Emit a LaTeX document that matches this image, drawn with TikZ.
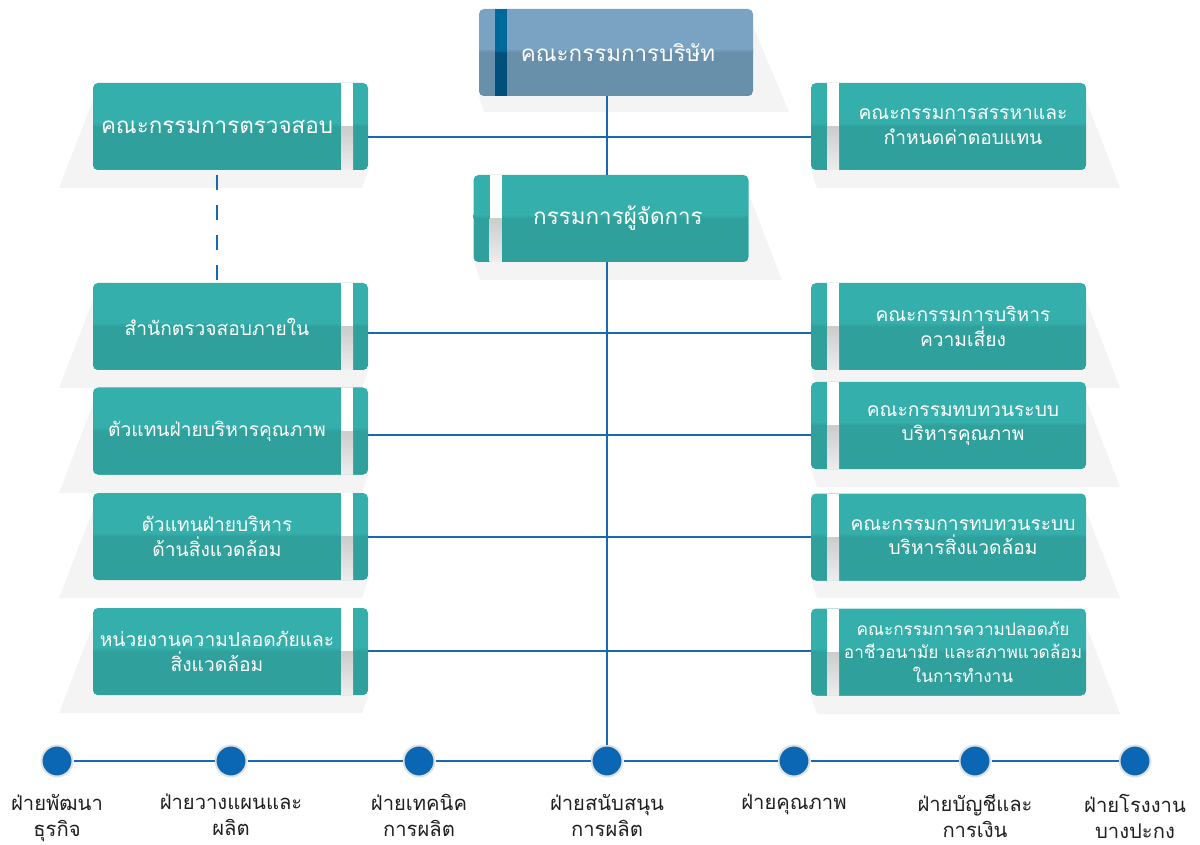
\documentclass[tikz,border=0pt]{standalone}
\usepackage{fontspec}
\newfontfamily\thai[Script=Thai]{Loma}
\usepackage{tikz}

\definecolor{tealtop}{HTML}{35AFAB}
\definecolor{tealbot}{HTML}{2FA09C}
\definecolor{boardtop}{HTML}{7AA2C2}
\definecolor{boardbot}{HTML}{6890AB}
\definecolor{stripetop}{HTML}{00699B}
\definecolor{stripebot}{HTML}{00507A}
\definecolor{linkblue}{HTML}{1868B2}
\definecolor{dotblue}{HTML}{0B67B3}
\definecolor{shadowgray}{HTML}{F4F4F4}

\begin{document}
\begin{tikzpicture}[x=0.5pt, y=-0.5pt, font=\thai,
    link/.style={draw=linkblue, line width=1.2pt},
    card/.style={rounded corners=2.5pt, inner sep=0pt, minimum width=137.5pt, minimum height=43.5pt, fill=tealtop,
      path picture={
        \fill[tealbot, sharp corners] (path picture bounding box.west) rectangle (path picture bounding box.south east);
        \shade[top color=tealtop, bottom color=tealbot, sharp corners] ([yshift=2pt]path picture bounding box.west) rectangle (path picture bounding box.east);
        \fill[white, sharp corners] ([xshift=#1]path picture bounding box.north west) rectangle ([xshift=#1+6pt]path picture bounding box.south west);
        \shade[top color=black!20, bottom color=black!7, sharp corners] ([xshift=#1]path picture bounding box.west) rectangle ([xshift=#1+6pt]path picture bounding box.south west);
      }},
    board/.style={rounded corners=2.5pt, inner sep=0pt, minimum width=137pt, minimum height=43.5pt, fill=boardtop,
      path picture={
        \fill[boardbot, sharp corners] (path picture bounding box.west) rectangle (path picture bounding box.south east);
        \shade[top color=boardtop, bottom color=boardbot, sharp corners] ([yshift=2pt]path picture bounding box.west) rectangle (path picture bounding box.east);
        \fill[stripetop, sharp corners] ([xshift=8pt]path picture bounding box.north west) rectangle ([xshift=14pt]path picture bounding box.west);
        \fill[stripebot, sharp corners] ([xshift=8pt]path picture bounding box.west) rectangle ([xshift=14pt]path picture bounding box.south west);
      }},
    boxtext/.style={text=white, align=center, inner sep=0pt, font=\thai\fontsize{9.6}{12.2}\selectfont},
    bigtext/.style={boxtext, font=\thai\fontsize{11.2}{13.5}\selectfont},
    smalltext/.style={boxtext, font=\thai\fontsize{8.6}{11.8}\selectfont},
    dot/.style={circle, fill=dotblue, draw=black!12, line width=1pt, minimum size=15.5pt, inner sep=0pt},
    dept/.style={anchor=north, align=center, text=black!88, font=\thai\fontsize{10.1}{13}\selectfont}]

    \useasboundingbox (0,0) rectangle (1200,845);

    % top two boxes
    \fill[shadowgray] (753,26) -- (789,112) -- (484,112) -- (479,96) -- cycle;
    \node[board] (bod) at (616,52.5) {};
    \node[bigtext] (bod-t) at (618,52.5) {คณะกรรมการบริษัท};
    \fill[shadowgray] (748,192) -- (782,280) -- (480,280) -- (474,262) -- cycle;
    \node[card=8pt] (md) at (611,218.5) {};
    \node[bigtext] (md-t) at (618,218.5) {กรรมการผู้จัดการ};

    % left column
    \foreach \n/\t/\b/\s/\txt in {l1/83/170/bigtext/{คณะกรรมการตรวจสอบ},
        l2/283/370/boxtext/{สำนักตรวจสอบภายใน},
        l3/387/475/boxtext/{ตัวแทนฝ่ายบริหารคุณภาพ},
        l4/493/580/boxtext/{ตัวแทนฝ่ายบริหาร\\ด้านสิ่งแวดล้อม},
        l5/608/695/boxtext/{หน่วยงานความปลอดภัยและ\\สิ่งแวดล้อม}} {
      \fill[shadowgray] (93,\t+17) -- (59,\b+18) -- (362,\b+18) -- (368,\b) -- cycle;
      \node[card=124pt] (\n) at (230.5,{(\t+\b)/2}) {};
      \node[\s] (\n-t) at ([xshift=-6.75pt]\n.center) {\txt};
    }

    % right column
    \foreach \n/\t/\b/\s/\txt in {r1/83/170/boxtext/{คณะกรรมการสรรหาและ\\กำหนดค่าตอบแทน},
        r2/283/370/boxtext/{คณะกรรมการบริหาร\\ความเสี่ยง},
        r3/382/469/boxtext/{คณะกรรมทบทวนระบบ\\บริหารคุณภาพ},
        r4/494/580/boxtext/{คณะกรรมการทบทวนระบบ\\บริหารสิ่งแวดล้อม},
        r5/608/696/smalltext/{คณะกรรมการความปลอดภัย\\อาชีวอนามัย และสภาพแวดล้อม\\ในการทำงาน}} {
      \fill[shadowgray] (1086,\t+17) -- (1120,\b+18) -- (817,\b+18) -- (811,\b) -- cycle;
      \node[card=8pt] (\n) at (948.5,{(\t+\b)/2}) {};
      \node[\s] (\n-t) at ([xshift=7.25pt]\n.center) {\txt};
    }

    % departments
    \foreach \n/\x/\txt in {d1/57/{ฝ่ายพัฒนา\\ธุรกิจ}, d2/231/{ฝ่ายวางแผนและ\\ผลิต},
        d3/419/{ฝ่ายเทคนิค\\การผลิต}, d4/607/{ฝ่ายสนับสนุน\\การผลิต}, d5/794/{ฝ่ายคุณภาพ},
        d6/975/{ฝ่ายบัญชีและ\\การเงิน}, d7/1135/{ฝ่ายโรงงาน\\บางปะกง}} {
      \node[dot] (\n) at (\x,761) {};
      \node[dept] (\n-t) at (\x,787) {\txt};
    }

    % connectors
    \draw[link] (bod.south -| d4) -- (md.north -| d4);
    \draw[link] (md.south -| d4) -- (d4);
    \draw[link, dash pattern=on 7.5pt off 7.5pt, dash phase=12.5pt] (l1.south -| l1-t) -- (l2.north -| l1-t);
    \foreach \a/\b/\y in {l1/r1/137, l2/r2/333, l3/r3/435, l4/r4/537, l5/r5/651}
      \draw[link] (\a.east |- 0,\y) -- (\b.west |- 0,\y);
    \foreach \a/\b in {d1/d2, d2/d3, d3/d4, d4/d5, d5/d6, d6/d7}
      \draw[link] (\a) -- (\b);
\end{tikzpicture}
\end{document}
